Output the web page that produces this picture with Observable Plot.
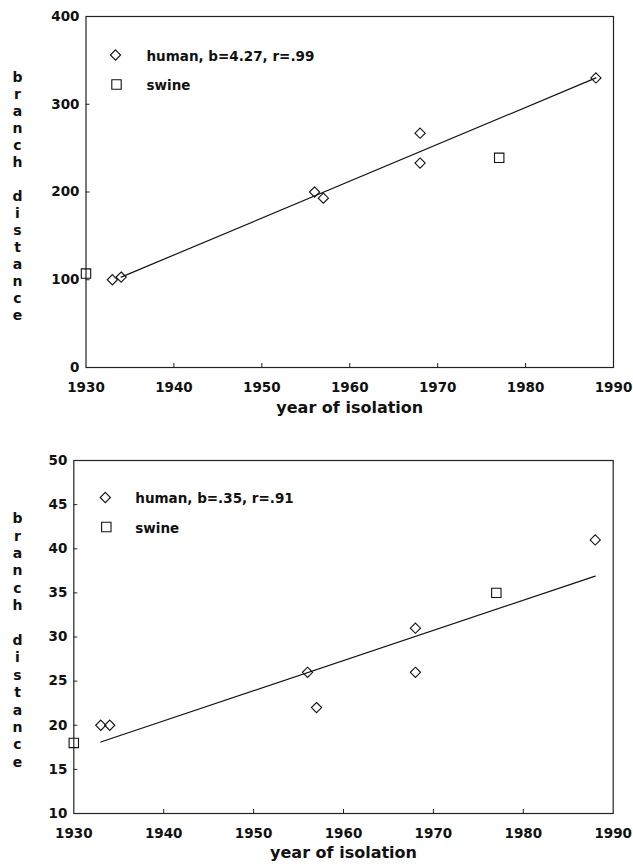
<!DOCTYPE html>
<html>
<head>
<meta charset="utf-8">
<script src="https://cdn.jsdelivr.net/npm/d3@7"></script>
<script src="https://cdn.jsdelivr.net/npm/@observablehq/plot@0.6"></script>
<style>
  html, body { margin: 0; padding: 0; background: #fff; }
  #charts svg { display: block; }
</style>
</head>
<body>
<div id="charts"></div>
<script>
// ---- data ----
const xTicks = [1930, 1940, 1950, 1960, 1970, 1980, 1990];
const humanYears = [1933, 1934, 1956, 1957, 1968, 1968, 1988];
const swineYears = [1930, 1977];

// top panel
const humanTop = [100, 103, 200, 193, 267, 233, 330];
const swineTop = [107, 239];
const fitTopYears = [1934, 1988];
const fitTopValues = [103, 330];
const yTicksTop = [0, 100, 200, 300, 400];
const legendTop = ["human, b=4.27, r=.99", "swine"];

// bottom panel
const humanBottom = [20, 20, 26, 22, 31, 26, 41];
const swineBottom = [18, 35];
const fitBottomYears = [1933, 1988];
const fitBottomValues = [18.1, 36.9];
const yTicksBottom = [10, 15, 20, 25, 30, 35, 40, 45, 50];
const legendBottom = ["human, b=.35, r=.91", "swine"];

const xTitle = "year of isolation";
const yTitle = "b\nr\na\nn\nc\nh\n\nd\ni\ns\nt\na\nn\nc\ne";

function panel(o) {
  const W = 633;
  const frameW = W - o.ml - o.mr;
  const frameH = o.height - o.mt - o.mb;
  const human = humanYears.map((x, i) => ({x, y: o.humanY[i]}));
  const swine = swineYears.map((x, i) => ({x, y: o.swineY[i]}));
  const fit = o.fitX.map((x, i) => ({x, y: o.fitY[i]}));
  const inner = a => a.slice(1, -1);
  const symStyle = {stroke: "#111", strokeWidth: 1.1, fill: "none"};
  return Plot.plot({
    width: W,
    height: o.height,
    marginLeft: o.ml,
    marginRight: o.mr,
    marginTop: o.mt,
    marginBottom: o.mb,
    style: {fontFamily: "'DejaVu Sans', sans-serif", fontWeight: "bold", fontSize: "13.5px", color: "#111", background: "#fff"},
    x: {domain: [1930, 1990], ticks: xTicks, tickFormat: d => String(d)},
    y: {domain: o.yDomain, ticks: o.yTicks},
    marks: [
      Plot.axisX({ticks: xTicks, tickSize: 0, tickPadding: 14.5, tickFormat: d => String(d), label: null}),
      Plot.axisY({ticks: o.yTicks, tickSize: 0, tickPadding: 6.5, label: null}),
      Plot.tickX(inner(xTicks), {x: d => d, insetTop: frameH - 4, stroke: "#222", strokeWidth: 1}),
      Plot.tickY(inner(o.yTicks), {y: d => d, insetRight: frameW - 4, stroke: "#222", strokeWidth: 1}),
      Plot.frame({stroke: "#222", strokeWidth: 1.2}),
      Plot.line(fit, {x: "x", y: "y", stroke: "#111", strokeWidth: 1.2}),
      Plot.dot(human, {x: "x", y: "y", symbol: "diamond2", r: 4.6, ...symStyle}),
      Plot.dot(swine, {x: "x", y: "y", symbol: "square", r: 5.3, ...symStyle}),
      // legend
      Plot.dot([0], {frameAnchor: "top-left", dx: o.lgx, dy: o.lgy, symbol: "diamond2", r: 4.6, ...symStyle}),
      Plot.dot([0], {frameAnchor: "top-left", dx: o.lgx + 1, dy: o.lgy + o.lgs, symbol: "square", r: 5.3, ...symStyle}),
      Plot.text([o.legend[0]], {frameAnchor: "top-left", dx: o.ltx, dy: o.lgy + 1.5, text: d => d, textAnchor: "start", lineAnchor: "middle", fontSize: 13.5, fill: "#111"}),
      Plot.text([o.legend[1]], {frameAnchor: "top-left", dx: o.ltx, dy: o.lgy + 1.5 + o.lgs, text: d => d, textAnchor: "start", lineAnchor: "middle", fontSize: 13.5, fill: "#111"}),
      // axis titles
      Plot.text([xTitle], {frameAnchor: "bottom", dy: o.xtdy, text: d => d, lineAnchor: "middle", fontSize: 16, fill: "#111"}),
      Plot.text([yTitle], {frameAnchor: "left", dx: o.ytdx, dy: o.ytdy, text: d => d, lineAnchor: "middle", textAnchor: "middle", fontSize: 14, lineHeight: o.ylh, fill: "#111"})
    ]
  });
}

const root = document.getElementById("charts");
root.append(panel({
  height: 430, ml: 85.5, mr: 20, mt: 16, mb: 63,
  humanY: humanTop, swineY: swineTop, fitX: fitTopYears, fitY: fitTopValues,
  yDomain: [0, 400], yTicks: yTicksTop, legend: legendTop,
  lgx: 29.5, lgy: 38.5, lgs: 29.5, ltx: 60.5,
  xtdy: 40, ytdx: -68.5, ytdy: 3.5, ylh: 17 / 14
}));
root.append(panel({
  height: 437, ml: 73.3, mr: 20.3, mt: 30, mb: 54,
  humanY: humanBottom, swineY: swineBottom, fitX: fitBottomYears, fitY: fitBottomValues,
  yDomain: [10, 50], yTicks: yTicksBottom, legend: legendBottom,
  lgx: 31.5, lgy: 37, lgs: 29.5, ltx: 61.5,
  xtdy: 39, ytdx: -56.3, ytdy: 2.5, ylh: 17.4 / 14
}));
</script>
</body>
</html>
